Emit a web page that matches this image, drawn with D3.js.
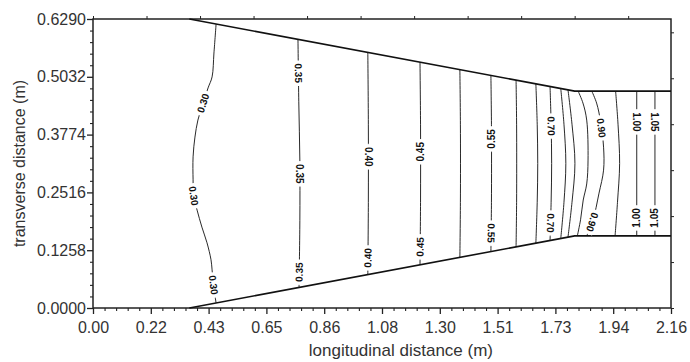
<!DOCTYPE html>
<html>
<head>
<meta charset="utf-8">
<script src="https://cdn.jsdelivr.net/npm/d3@7"></script>
<style>
  body { margin: 0; background: #fff; }
  svg text { font-family: "Liberation Sans", Arial, sans-serif; }
</style>
</head>
<body>
<svg id="chart" width="690" height="362"></svg>
<script>
// ---- axis ticks -------------------------------------------------------
const xTickValues = [0, 0.216, 0.432, 0.648, 0.864, 1.08, 1.296, 1.512, 1.728, 1.944, 2.16];
const xTickLabels = ["0.00", "0.22", "0.43", "0.65", "0.86", "1.08", "1.30", "1.51", "1.73", "1.94", "2.16"];
const yTickValues = [0, 0.1258, 0.2516, 0.3774, 0.5032, 0.629];
const yTickLabels = ["0.0000", "0.1258", "0.2516", "0.3774", "0.5032", "0.6290"];
const topTickValues = [0, 0.2, 0.4, 0.6, 0.8, 1.0, 1.2, 1.4, 1.6, 1.8, 2.0];
const rightTickValues = [0, 0.1, 0.2, 0.3, 0.4, 0.5, 0.6];

// ---- channel walls (m) ------------------------------------------------
const wallTop = [[0.36, 0.629], [1.80, 0.472], [2.16, 0.472]];
const wallBottom = [[0.36, 0.0], [1.80, 0.157], [2.16, 0.157]];

// ---- contour levels and their traced isolines (x, y in m) -------------
const contourLevels = [0.30, 0.35, 0.40, 0.45, 0.50, 0.55, 0.60, 0.65, 0.70, 0.75, 0.80, 0.85, 0.90, 0.95, 1.00, 1.05];
const contourLines = [
  [[0.460, 0.618], [0.452, 0.555], [0.445, 0.503], [0.430, 0.479], [0.411, 0.445], [0.392, 0.409], [0.381, 0.372], [0.374, 0.329], [0.374, 0.279], [0.376, 0.244], [0.389, 0.213], [0.407, 0.176], [0.426, 0.142], [0.441, 0.105], [0.445, 0.083], [0.450, 0.050], [0.460, 0.011]],
  [[0.766, 0.585], [0.769, 0.45], [0.773, 0.32], [0.773, 0.19], [0.770, 0.045]],
  [[1.027, 0.556], [1.029, 0.40], [1.029, 0.23], [1.027, 0.073]],
  [[1.222, 0.535], [1.224, 0.40], [1.224, 0.23], [1.222, 0.094]],
  [[1.371, 0.519], [1.373, 0.40], [1.373, 0.23], [1.371, 0.110]],
  [[1.487, 0.506], [1.489, 0.40], [1.489, 0.23], [1.487, 0.123]],
  [[1.581, 0.496], [1.583, 0.40], [1.583, 0.23], [1.581, 0.133]],
  [[1.655, 0.488], [1.660, 0.40], [1.662, 0.3145], [1.660, 0.23], [1.655, 0.141]],
  [[1.708, 0.482], [1.712, 0.40], [1.714, 0.3145], [1.712, 0.23], [1.708, 0.147]],
  [[1.748, 0.478], [1.760, 0.40], [1.767, 0.3145], [1.760, 0.23], [1.748, 0.151]],
  [[1.775, 0.475], [1.790, 0.40], [1.801, 0.3145], [1.790, 0.23], [1.775, 0.154]],
  [[1.813, 0.472], [1.831, 0.446], [1.845, 0.409], [1.850, 0.322], [1.845, 0.27], [1.832, 0.235], [1.822, 0.192], [1.810, 0.157]],
  [[1.864, 0.472], [1.882, 0.446], [1.897, 0.405], [1.908, 0.35], [1.908, 0.30], [1.891, 0.250], [1.868, 0.19], [1.845, 0.157]],
  [[1.953, 0.472], [1.962, 0.40], [1.968, 0.3145], [1.960, 0.23], [1.951, 0.157]],
  [[2.032, 0.472], [2.032, 0.157]],
  [[2.100, 0.472], [2.100, 0.157]]
];

// ---- inline labels: level, height along the isoline (m), reversed text
const labelLevels  = [0.30, 0.30, 0.30, 0.35, 0.35, 0.35, 0.40, 0.40, 0.45, 0.45, 0.55, 0.55, 0.70, 0.70, 0.90, 0.90, 1.00, 1.00, 1.05, 1.05];
const labelHeights = [0.446, 0.244, 0.050, 0.511, 0.292, 0.078, 0.329, 0.109, 0.340, 0.133, 0.368, 0.163, 0.396, 0.185, 0.392, 0.187, 0.405, 0.196, 0.405, 0.196];
const labelFlipped = [false, true, true, true, true, false, true, false, false, false, false, true, true, true, true, true, true, false, true, false];

// ---- layout -----------------------------------------------------------
const margin = { left: 93, right: 19, top: 19, bottom: 54 };
const W = 690, H = 362;
const svg = d3.select("#chart");

const x = d3.scaleLinear().domain([0, 2.16]).range([margin.left, W - margin.right]);
const y = d3.scaleLinear().domain([0, 0.629]).range([H - margin.bottom, margin.top]);

// minor ticks: four between each pair of labelled ticks
function subdivide(vals, n) {
  const out = [];
  for (let i = 0; i < vals.length - 1; i++) {
    for (let k = 1; k < n; k++) out.push(vals[i] + (vals[i + 1] - vals[i]) * k / n);
  }
  return out;
}

const axisColor = "#222";
const textColor = "#333";

function styleAxis(g, width) {
  g.select(".domain").remove();
  g.selectAll(".tick line").attr("stroke", axisColor).attr("stroke-width", width);
}

// bottom axis
const gx = svg.append("g").attr("transform", `translate(0,${y(0)})`)
  .call(d3.axisBottom(x).tickValues(xTickValues).tickSize(6).tickPadding(8)
    .tickFormat((d, i) => xTickLabels[i]));
styleAxis(gx, 1.3);
gx.selectAll("text").attr("font-size", 16).attr("fill", textColor);
const gxm = svg.append("g").attr("transform", `translate(0,${y(0)})`)
  .call(d3.axisBottom(x).tickValues(subdivide(xTickValues, 5)).tickSize(3).tickFormat(""));
styleAxis(gxm, 1.1);

// left axis
const gy = svg.append("g").attr("transform", `translate(${x(0)},0)`)
  .call(d3.axisLeft(y).tickValues(yTickValues).tickSize(6).tickPadding(1)
    .tickFormat((d, i) => yTickLabels[i]));
styleAxis(gy, 1.3);
gy.selectAll("text").attr("font-size", 16).attr("fill", textColor);
const gym = svg.append("g").attr("transform", `translate(${x(0)},0)`)
  .call(d3.axisLeft(y).tickValues(subdivide(yTickValues, 5)).tickSize(3).tickFormat(""));
styleAxis(gym, 1.1);

// top and right axes, short unlabelled ticks
const gt = svg.append("g").attr("transform", `translate(0,${y(0.629)})`)
  .call(d3.axisTop(x).tickValues(topTickValues).tickSize(3).tickFormat(""));
styleAxis(gt, 1);
const gr = svg.append("g").attr("transform", `translate(${x(2.16)},0)`)
  .call(d3.axisRight(y).tickValues(rightTickValues).tickSize(3).tickFormat(""));
styleAxis(gr, 1);

// frame
svg.append("rect")
  .attr("x", x(0)).attr("y", y(0.629))
  .attr("width", x(2.16) - x(0)).attr("height", y(0) - y(0.629))
  .attr("fill", "none").attr("stroke", axisColor).attr("stroke-width", 1.5);

// axis titles
svg.append("text")
  .attr("x", 493).attr("y", 356)
  .attr("text-anchor", "end").attr("font-size", 17).attr("fill", textColor)
  .text("longitudinal distance (m)");
svg.append("text")
  .attr("transform", `translate(25,${(y(0) + y(0.629)) / 2}) rotate(-90)`)
  .attr("text-anchor", "middle").attr("font-size", 16).attr("fill", textColor)
  .text("transverse distance (m)");

// ---- contour lines ----------------------------------------------------
const line = d3.line().x(d => x(d[0])).y(d => y(d[1])).curve(d3.curveCatmullRom.alpha(0.5));
const gc = svg.append("g");
gc.selectAll("path.iso")
  .data(contourLines)
  .join("path")
  .attr("class", "iso")
  .attr("d", line)
  .attr("fill", "none")
  .attr("stroke", "#111")
  .attr("stroke-width", 0.9);

// channel walls
const wall = d3.line().x(d => x(d[0])).y(d => y(d[1]));
[wallTop, wallBottom].forEach(w => {
  svg.append("path").attr("d", wall(w))
    .attr("fill", "none").attr("stroke", "#111").attr("stroke-width", 1.6);
});

// position along an isoline at a given height (linear between traced points)
function xAt(pts, yy) {
  for (let i = 0; i < pts.length - 1; i++) {
    const a = pts[i], b = pts[i + 1];
    const lo = Math.min(a[1], b[1]), hi = Math.max(a[1], b[1]);
    if (yy >= lo && yy <= hi) {
      const t = (yy - a[1]) / (b[1] - a[1]);
      return a[0] + t * (b[0] - a[0]);
    }
  }
  return pts[0][0];
}

// ---- inline contour labels -------------------------------------------
const gl = svg.append("g");
labelLevels.forEach((lev, i) => {
  const pts = contourLines[contourLevels.findIndex(v => Math.abs(v - lev) < 1e-9)];
  const yy = labelHeights[i];
  const px = x(xAt(pts, yy)), py = y(yy);
  const up = [x(xAt(pts, yy + 0.012)), y(yy + 0.012)];
  const dn = [x(xAt(pts, yy - 0.012)), y(yy - 0.012)];
  let ang = Math.atan2(up[1] - dn[1], up[0] - dn[0]) * 180 / Math.PI;
  if (labelFlipped[i]) ang += 180;
  const g = gl.append("g").attr("transform", `translate(${px},${py}) rotate(${ang})`);
  const txt = lev.toFixed(2);
  const t = g.append("text")
    .attr("text-anchor", "middle").attr("dy", "0.35em")
    .attr("font-size", 10).attr("font-weight", "bold").attr("fill", "#111")
    .text(txt);
  const w = t.node().getComputedTextLength();
  g.insert("rect", "text")
    .attr("x", -w / 2 - 3).attr("y", -4)
    .attr("width", w + 6).attr("height", 8)
    .attr("fill", "#fff");
});
</script>
</body>
</html>
